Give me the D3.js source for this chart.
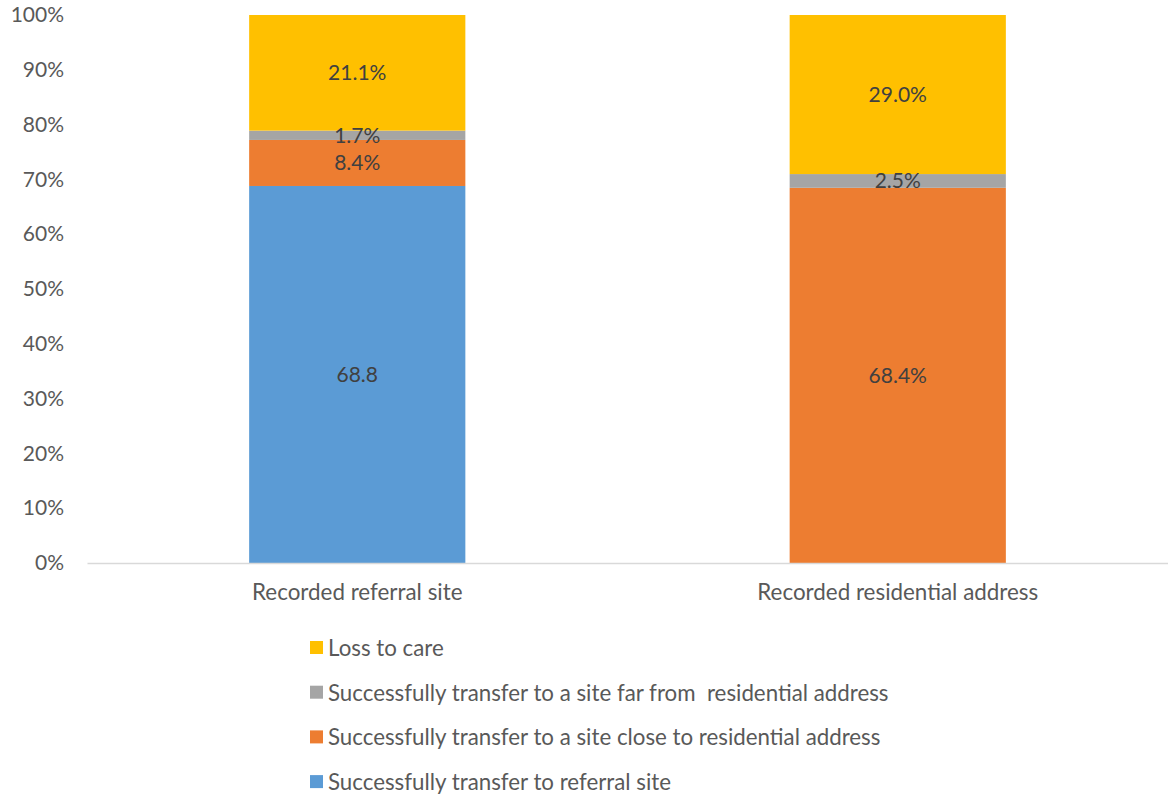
<!DOCTYPE html>
<html>
<head>
<meta charset="utf-8">
<script src="https://cdn.jsdelivr.net/npm/d3@7"></script>
<style>
  body { margin: 0; background: #fff; }
  text { font-family: Lato, "Open Sans", sans-serif; }
</style>
</head>
<body>
<div id="chart"></div>
<script>
// chart data
const categories = ['Recorded referral site', 'Recorded residential address'];
const seriesNames = [
  'Successfully transfer to referral site',
  'Successfully transfer to a site close to residential address',
  'Successfully transfer to a site far from  residential address',
  'Loss to care'
];
const referralSite = [68.8, 8.4, 1.7, 21.1];
const residentialAddress = [0, 68.4, 2.5, 29.0];
const labelsReferral = ['68.8', '8.4%', '1.7%', '21.1%'];
const labelsResidential = ['', '68.4%', '2.5%', '29.0%'];
const yTicks = [0, 0.1, 0.2, 0.3, 0.4, 0.5, 0.6, 0.7, 0.8, 0.9, 1];
const colors = ['#5b9bd5', '#ed7d31', '#a5a5a5', '#ffc000'];

const width = 1168;
const height = 809;
const plot = { left: 87, right: 1168, top: 15, bottom: 563 };

const svg = d3.select('#chart')
  .append('svg')
  .attr('width', width)
  .attr('height', height);

const rows = categories.map((c, i) => {
  const vals = i === 0 ? referralSite : residentialAddress;
  const row = { category: c };
  seriesNames.forEach((s, j) => { row[s] = vals[j]; });
  return row;
});
const labelRows = [labelsReferral, labelsResidential];

const stack = d3.stack().keys(seriesNames).offset(d3.stackOffsetExpand);
const layers = stack(rows);

const x = d3.scaleBand().domain(categories).range([plot.left, plot.right]).paddingInner(0.6).paddingOuter(0.3);
const y = d3.scaleLinear().domain([0, 1]).range([plot.bottom, plot.top]);

// y axis labels only
const yAxis = svg.append('g')
  .attr('transform', `translate(${plot.left}, 0)`)
  .call(d3.axisLeft(y).tickValues(yTicks).tickFormat(d3.format('.0%')).tickSize(0).tickPadding(23));
yAxis.select('.domain').remove();
yAxis.selectAll('text')
  .style('font-size', '21px')
  .style('fill', '#595959');

// bars
const groups = svg.selectAll('g.layer')
  .data(layers)
  .enter()
  .append('g')
  .attr('class', 'layer')
  .attr('fill', (d, i) => colors[i]);

groups.selectAll('rect')
  .data(d => d)
  .enter()
  .append('rect')
  .attr('x', d => x(d.data.category))
  .attr('width', x.bandwidth())
  .attr('y', d => y(d[1]))
  .attr('height', d => y(d[0]) - y(d[1]));

// x axis line
const xAxis = svg.append('g')
  .attr('transform', `translate(0, ${plot.bottom})`)
  .call(d3.axisBottom(x).tickSize(0).tickPadding(21));
xAxis.select('.domain').attr('stroke', '#d9d9d9').attr('stroke-width', 1.5);
xAxis.selectAll('text')
  .style('font-size', '22.4px')
  .style('fill', '#595959');

// data labels
layers.forEach((layer, i) => {
  layer.forEach((d, j) => {
    const txt = labelRows[j][i];
    if (!txt) return;
    svg.append('text')
      .attr('x', x(d.data.category) + x.bandwidth() / 2)
      .attr('y', (y(d[0]) + y(d[1])) / 2)
      .attr('dy', '0.35em')
      .attr('text-anchor', 'middle')
      .style('font-size', '21px')
      .style('fill', '#404040')
      .text(txt);
  });
});

// legend (reverse order)
const legendOrder = seriesNames.map((s, i) => i).reverse();
const legend = svg.append('g').attr('transform', 'translate(310, 648)');
legendOrder.forEach((si, k) => {
  const g = legend.append('g').attr('transform', `translate(0, ${k * 44.7})`);
  g.append('rect')
    .attr('x', 0)
    .attr('y', -7)
    .attr('width', 13)
    .attr('height', 13)
    .attr('fill', colors[si]);
  g.append('text')
    .attr('x', 18)
    .attr('y', 0)
    .attr('dy', '0.35em')
    .style('font-size', '22.3px')
    .style('fill', '#595959')
    .style('white-space', 'pre')
    .text(seriesNames[si]);
});
</script>
</body>
</html>
